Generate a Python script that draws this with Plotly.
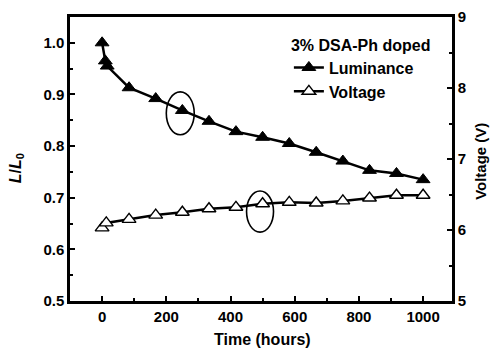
import plotly.graph_objects as go

time_lum = [0, 10, 16, 84, 167, 250, 333, 417, 500, 583, 667, 750, 833, 917, 1000]
luminance = [1.0, 0.965, 0.955, 0.913, 0.892, 0.869, 0.848, 0.828, 0.817, 0.805, 0.788, 0.771, 0.753, 0.747, 0.735]
time_volt = [0, 13, 84, 167, 250, 333, 417, 500, 583, 667, 750, 833, 917, 1000]
voltage = [6.03, 6.10, 6.15, 6.21, 6.25, 6.30, 6.32, 6.37, 6.39, 6.38, 6.41, 6.45, 6.49, 6.49]

FONT = "Liberation Sans"

fig = go.Figure()
fig.add_trace(go.Scatter(
    x=time_lum, y=luminance, name="<b>Luminance</b>", mode="lines+markers",
    line=dict(color="black", width=2.5),
    marker=dict(symbol="triangle-up", size=12, color="black", line=dict(color="black", width=1)),
    yaxis="y"))
fig.add_trace(go.Scatter(
    x=time_volt, y=voltage, name="<b>Voltage</b>", mode="lines+markers",
    line=dict(color="black", width=2.5),
    marker=dict(symbol="triangle-up", size=12, color="white", line=dict(color="black", width=1.4)),
    yaxis="y2"))

# ellipses highlighting points
fig.add_shape(type="circle", xref="x", yref="y", x0=200, x1=287, y0=0.822, y1=0.905,
              line=dict(color="black", width=1.6))
fig.add_shape(type="circle", xref="x", yref="y2", x0=450, x1=534, y0=5.97, y1=6.55,
              line=dict(color="black", width=1.6))

tickfont = dict(family=FONT, size=15, color="black")
titlefont = dict(family=FONT, size=16, color="black")

common = dict(ticks="inside", ticklen=5, tickwidth=2, tickcolor="black",
              showline=True, linewidth=2.5, linecolor="black",
              showgrid=False, zeroline=False, tickfont=tickfont,
              tickprefix="<b>", ticksuffix="</b>", automargin=False)

fig.update_layout(
    width=492, height=350,
    margin=dict(l=70, r=40, t=17, b=49),
    paper_bgcolor="white", plot_bgcolor="white",
    showlegend=True,
    legend=dict(
        x=0.573, y=0.955, xanchor="left", yanchor="top",
        bgcolor="rgba(0,0,0,0)",
        title=dict(text="<b>3% DSA-Ph doped</b>", font=dict(family=FONT, size=16, color="black"), side="top"),
        font=dict(family=FONT, size=16, color="black"),
        tracegroupgap=0, itemwidth=30,
    ),
    xaxis=dict(
        range=[-100, 1090], dtick=200, tick0=0, mirror=True,
        minor=dict(dtick=100, tick0=0, ticks="inside", ticklen=3, tickwidth=2, tickcolor="black"),
        **common,
    ),
    yaxis=dict(
        range=[0.5, 1.05], dtick=0.1, tick0=0.5, tickformat=".1f",
        minor=dict(dtick=0.05, ticks="inside", ticklen=3, tickwidth=2, tickcolor="black"),
        **common,
    ),
    yaxis2=dict(
        range=[5, 9], dtick=1, tick0=5, overlaying="y", side="right",
        minor=dict(dtick=0.5, ticks="inside", ticklen=3, tickwidth=2, tickcolor="black"),
        **common,
    ),
    annotations=[
        dict(text="<b>Time (hours)</b>", xref="paper", yref="paper", x=0.503, y=-0.137,
             showarrow=False, font=titlefont, xanchor="center", yanchor="middle"),
        dict(text="<b><i>L</i>/<i>L</i><sub>0</sub></b>", xref="paper", yref="paper", x=-0.141, y=0.468,
             showarrow=False, font=dict(family=FONT, size=16, color="black"), textangle=-90,
             xanchor="center", yanchor="middle"),
        dict(text="<b>Voltage (V)</b>", xref="paper", yref="paper", x=1.076, y=0.49,
             showarrow=False, font=dict(family=FONT, size=15, color="black"), textangle=-90,
             xanchor="center", yanchor="middle"),
    ],
)

fig.write_html("out.html", post_script="document.body.style.margin='0';",
               config={"displayModeBar": False})
